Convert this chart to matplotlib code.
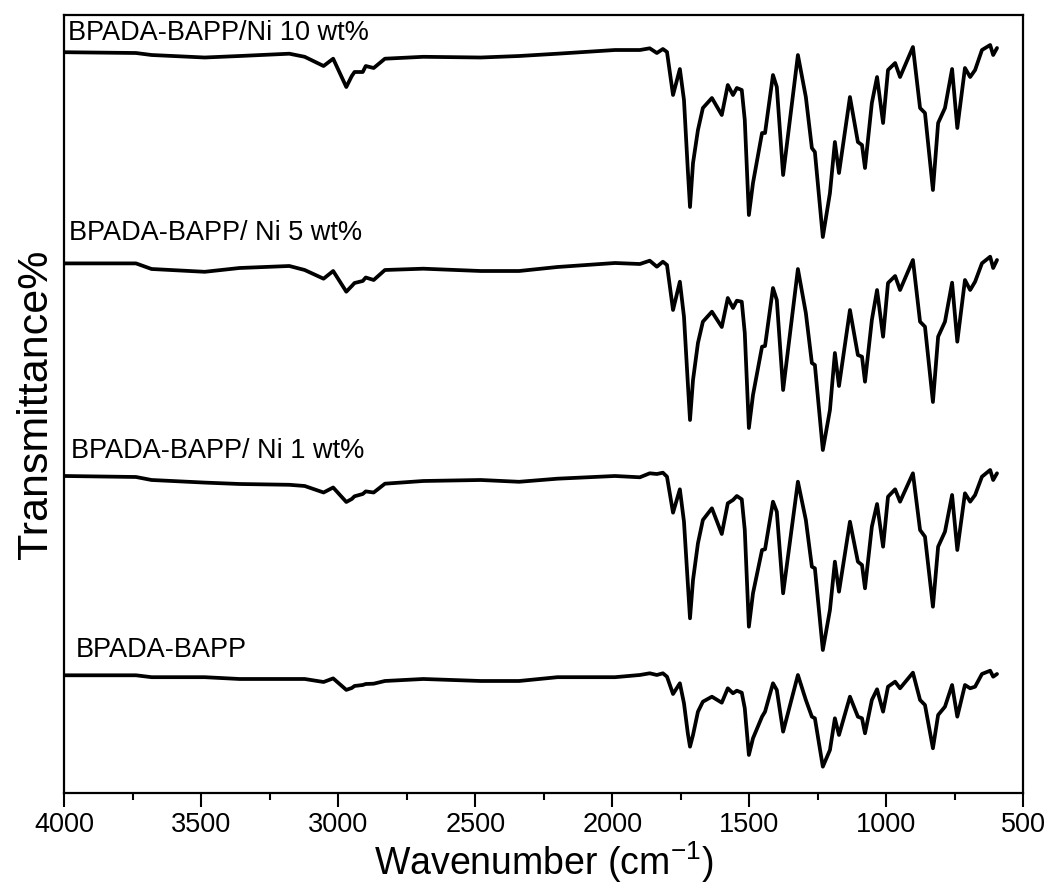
import matplotlib
matplotlib.use("Agg")
import matplotlib.pyplot as plt

plt.rcParams['font.family'] = ['Liberation Sans', 'DejaVu Sans']
plt.rcParams['mathtext.fontset'] = 'custom'
plt.rcParams['mathtext.rm'] = 'Liberation Sans'

# wavenumber grid (cm^-1) at which the curves were read
wn = [4000, 3739, 3682, 3488, 3361, 3179, 3123, 3054, 3019, 2971, 2951, 2941, 2911,
      2900, 2871, 2830, 2690, 2480, 2340, 2200, 1990,
      1899, 1863, 1837, 1815, 1800, 1778, 1753, 1738, 1724, 1716, 1705, 1687, 1669,
      1636, 1600, 1578, 1559, 1545, 1527, 1516, 1501, 1486, 1453, 1442, 1413, 1399,
      1376, 1322, 1293, 1271, 1260, 1231, 1205, 1187, 1172, 1132, 1103, 1088, 1077,
      1052, 1033, 1011, 993, 967, 949, 902, 876, 858, 829, 810, 785, 759, 740, 712,
      693, 675, 650, 620, 609, 595]

# transmittance (a.u., stacked as in the figure)
t_bapp = [120.7, 120.7, 118.8, 118.8, 117, 117, 117, 114, 117.6, 106.1, 108, 110, 111,
          112, 112.3, 115, 117, 115, 115, 118.8, 118.8,
          121, 122.7, 121, 122.7, 119.3, 102, 112.7, 92.7, 62.7, 49.3, 61, 84.3, 94.3,
          99.3, 93.3, 107.7, 102.7, 105.3, 103.3, 87.7, 41, 57.7, 79.3, 84.3, 112.7, 106,
          64.3, 121, 96, 79.3, 77.7, 29.3, 46, 77.7, 61, 99.3, 79.3, 77.7, 62.7,
          96, 106.7, 84.3, 109.3, 114.3, 107.7, 123.3, 96, 91, 47.7, 81, 89.3, 111, 79.3, 111,
          107.7, 109.3, 122, 125.3, 119.3, 122]

t_ni1 = [320, 319, 316, 313.4, 312, 311.2, 310, 303.5, 308.5, 294, 297, 299.7, 302,
         304.6, 303.5, 312.3, 315, 316, 314.2, 317.3, 320,
         318.7, 322.7, 322, 323.3, 319.3, 283.3, 306.7, 274.3, 212.7, 177.7, 216, 252.7, 276,
         287.7, 262, 292.7, 296, 300, 296.7, 266, 169.3, 202.7, 246, 246.7, 294.3, 284.3,
         202.7, 314.3, 276, 229.3, 227.7, 146, 186, 234.3, 204.3, 274.3, 234.3, 231, 207.7,
         269.3, 292, 249.3, 299.3, 306.7, 294.3, 322.7, 266, 259.3, 189.3, 249.3, 264.3, 301, 246, 302.7,
         294.3, 301, 319.3, 326, 316, 322.7]

t_ni5 = [532.6, 532.6, 527, 524.2, 528, 530, 526, 517.3, 525, 504.3, 510, 513, 515,
         518.5, 516, 526, 527.3, 525, 525, 529, 533,
         532, 535.3, 529.3, 534.3, 531, 486, 514.3, 479.3, 413, 376, 416, 453, 474.3,
         484.3, 469, 498, 488, 495.3, 494.3, 463, 368, 401, 449.3, 450, 508, 496,
         406, 527, 483, 433, 431, 346, 386, 443, 410, 486, 441, 439.3, 414.3,
         476, 506, 459.3, 513, 520, 506, 536, 474.3, 469.3, 394, 459.3, 474.3, 513.3, 454.3, 516,
         506, 514.3, 532.7, 539.3, 528, 536]

t_ni10 = [743.8, 743, 741, 738.5, 740, 742.3, 739.2, 730, 737.3, 709, 720, 724, 724,
          730, 728, 737.3, 739.2, 738.5, 740, 742.3, 746,
          746, 747.7, 743, 747, 744, 701, 727, 696, 626, 589, 633, 666, 688,
          698, 681, 711, 701, 708, 706, 676, 581, 613, 663, 663, 721, 709,
          621, 741, 699, 648, 644, 559, 603, 654, 623, 699, 654, 651, 628,
          693, 719, 673, 726, 733, 719, 749, 688, 683, 606, 673, 688, 727, 668, 728,
          719, 726, 746, 751, 741, 748]

series = [t_bapp, t_ni1, t_ni5, t_ni10]
labels = ["BPADA-BAPP", "BPADA-BAPP/ Ni 1 wt%", "BPADA-BAPP/ Ni 5 wt%", "BPADA-BAPP/Ni 10 wt%"]
label_x = [3960, 3975, 3982, 3988]
label_y = [139, 338, 556, 756]

fig = plt.figure(figsize=(10.47, 8.88), dpi=100)
ax = fig.add_axes([0.0616, 0.1070, 0.9771 - 0.0616, 0.9831 - 0.1070])

for s in series:
    ax.plot(wn, s, color='black', lw=2.7, solid_joinstyle='round', solid_capstyle='round')

for lab, lx, ly in zip(labels, label_x, label_y):
    ax.text(lx, ly, lab, fontsize=19.5, ha='left', va='baseline', color='black')

ax.set_xlim(4000, 500)
ax.set_ylim(3, 781)
ax.set_xticks([4000, 3500, 3000, 2500, 2000, 1500, 1000, 500])
ax.set_xticks([3750, 3250, 2750, 2250, 1750, 1250, 750], minor=True)
ax.set_yticks([])
ax.tick_params(axis='x', which='major', direction='out', length=10, width=1.5,
               labelsize=19.5, pad=4)
ax.tick_params(axis='x', which='minor', direction='out', length=5, width=1.5)
for sp in ax.spines.values():
    sp.set_linewidth(1.6)

ax.set_xlabel("Wavenumber (cm$^{-1}$)", fontsize=27, labelpad=1)
ax.set_ylabel("Transmittance%", fontsize=31, labelpad=6)

fig.savefig("out.png", dpi=100)
